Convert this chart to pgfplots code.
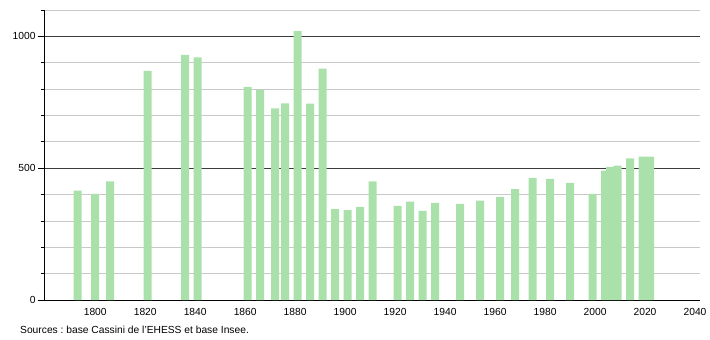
\documentclass[border=0pt]{standalone}
\usepackage{pgfplots}
\pgfplotsset{compat=1.18}
\usepackage{fontspec}
\setmainfont{Liberation Sans}
\frenchspacing
\definecolor{barg}{RGB}{170,225,170}
\definecolor{lgrid}{RGB}{200,200,200}
\definecolor{dgrid}{RGB}{60,60,60}
\begin{document}
\begin{tikzpicture}
\begin{axis}[
  name=ax,
  scale only axis,
  width=656bp, height=290bp,
  xmin=1779.5, xmax=2042,
  ymin=0, ymax=1100,
  axis lines*=left,
  axis line style={black, line width=0.8pt, -},
  xtick={1800,1820,...,2040},
  x tick style={draw=none},
  ytick={0,500,1000},
  minor ytick={100,200,300,400,600,700,800,900,1100},
  tick align=outside,
  major tick length=6bp,
  minor tick length=3bp,
  y tick style={black, line width=0.8pt},
  ymajorgrids, yminorgrids,
  major grid style={dgrid, line width=0.8pt},
  minor grid style={lgrid, line width=0.8pt},
  /pgf/number format/assume math mode=true,
  /pgf/number format/1000 sep={},
  ticklabel style={font=\fontsize{10.3}{12}\selectfont},
  xticklabel style={yshift=1bp},
  yticklabel style={xshift=1bp},
  ybar, bar width=8bp,
  clip=false,
]
\addplot[fill=barg, draw=none] coordinates {
(1793,415) (1800,403) (1806,450) (1821,869) (1836,930) (1841,920)
(1861,808) (1866,797) (1872,727) (1876,746) (1881,1020) (1886,745)
(1891,878) (1896,345) (1901,341) (1906,353) (1911,450) (1921,357)
(1926,373) (1931,338) (1936,368) (1946,365) (1954,377) (1962,391)
(1968,421) (1975,463) (1982,459) (1990,444) (1999,403) (2004,491)
(2006,505) (2009,510) (2014,537) (2019,544) (2022,544)
};
\end{axis}
\node[anchor=base west, font=\fontsize{10.3}{12}\selectfont, inner sep=0pt]
  at ([xshift=-24bp,yshift=-33bp]ax.south west) {Sources : base Cassini de l'EHESS et base Insee.};
\pgfresetboundingbox
\path[use as bounding box] ([xshift=-44bp,yshift=-40bp]ax.south west) rectangle ([xshift=10bp,yshift=10bp]ax.north east);
\end{tikzpicture}
\end{document}
